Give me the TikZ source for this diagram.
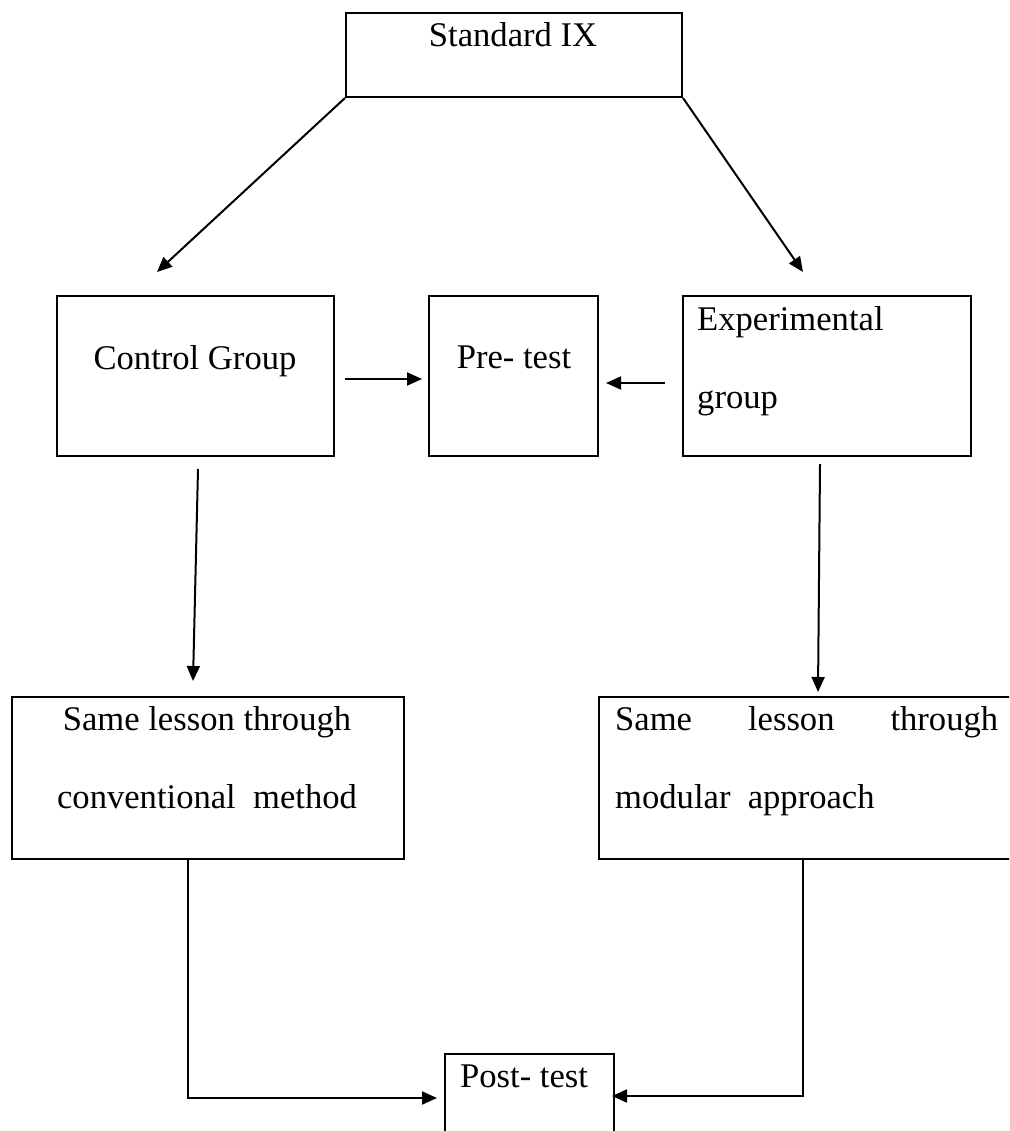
\documentclass[tikz,border=0pt]{standalone}
\usepackage{fontspec}
\setmainfont{Liberation Serif}
\usepackage{tikz}
\usetikzlibrary{arrows.meta}

\begin{document}
\begin{tikzpicture}[
        x=1pt, y=-1pt,
        font=\fontsize{34.6}{40}\selectfont,
        box/.style={rectangle, draw=black, line width=2pt, inner sep=0pt},
        txt/.style={inner sep=0pt},
        line/.style={draw=black, line width=2pt, -{Triangle[length=15pt, width=13pt]}}
    ]
        \clip (0,0) rectangle (1009,1131);

        % boxes
        \node [box, minimum width=336pt, minimum height=84pt] (std) at (514,55) {};
        \node [box, minimum width=277pt, minimum height=160pt] (ctrl) at (195.5,376) {};
        \node [box, minimum width=169pt, minimum height=160pt] (pre) at (513.5,376) {};
        \node [box, minimum width=288pt, minimum height=160pt] (expt) at (827,376) {};
        \node [box, minimum width=392pt, minimum height=162pt] (conv) at (208,778) {};
        \node [box, minimum width=416pt, minimum height=162pt] (modu) at (807,778) {};
        \node [box, minimum width=169pt, minimum height=140pt] (post) at (529.5,1124) {};

        % texts
        \node [txt, anchor=base] (stdtxt) at (513,47) {Standard IX};
        \node [txt, anchor=base] (ctrltxt) at (195,369) {Control Group};
        \node [txt, anchor=base] (pretxt) at (514,368) {Pre- test};
        \node [txt, anchor=base west] (expttxt) at (697,330) {Experimental};
        \node [txt, anchor=base west] (expttxtb) at (697,408) {group};
        \node [txt, anchor=base] (convtxt) at (207,730) {Same lesson through};
        \node [txt, anchor=base] (convtxtb) at (207,808) {conventional\ \ method};
        \node [txt, anchor=base west] (modutxt) at (615,730) {\makebox[383pt][l]{Same\hfill lesson\hfill through}};
        \node [txt, anchor=base west] (modutxtb) at (615,808) {modular\ \ approach};
        \node [txt, anchor=base west] (posttxt) at (460,1087) {Post- test};

        \coordinate (ctrltip) at (157,272);
        \coordinate (expttip) at (803,272);

        % connectors
        \draw[line] (std.south west) -- (ctrltip);
        \draw[line] (std.south east) -- (expttip);
        \draw[line] ([xshift=10pt, yshift=-3pt]ctrl.east) -- ([xshift=-6pt, yshift=-3pt]pre.west);
        \draw[line] ([xshift=-17pt, yshift=-7pt]expt.west) -- ([xshift=7pt, yshift=-7pt]pre.east);
        \draw[line] ([xshift=2.5pt, yshift=-12pt]ctrl.south) -- ([xshift=-15pt, yshift=15pt]conv.north);
        \draw[line] ([xshift=-7pt, yshift=-7pt]expt.south) -- ([xshift=11pt, yshift=4pt]modu.north);
        \draw[line] ([xshift=-20pt]conv.south) |- ([xshift=-7pt, yshift=26pt]post.west);
        \draw[line] ([xshift=-4pt]modu.south) |- ([xshift=-3pt, yshift=28pt]post.east);
    \end{tikzpicture}
\end{document}
